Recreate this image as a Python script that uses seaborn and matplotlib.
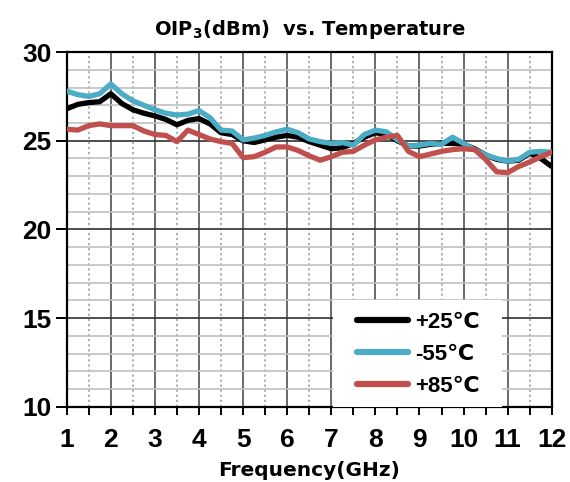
import numpy as np
import pandas as pd
import matplotlib
matplotlib.use("Agg")
import matplotlib.pyplot as plt
from matplotlib.patches import Rectangle
import seaborn as sns

# values, 0.25 GHz steps
freq = [1.0, 1.25, 1.5, 1.75, 2.0, 2.25, 2.5, 2.75, 3.0, 3.25, 3.5, 3.75,
        4.0, 4.25, 4.5, 4.75, 5.0, 5.25, 5.5, 5.75, 6.0, 6.25, 6.5, 6.75,
        7.0, 7.25, 7.5, 7.75, 8.0, 8.25, 8.5, 8.75, 9.0, 9.25, 9.5, 9.75,
        10.0, 10.25, 10.5, 10.75, 11.0, 11.25, 11.5, 11.75, 12.0]

oip3_p25 = [26.8, 27.05, 27.15, 27.2, 27.65, 27.1, 26.75, 26.55, 26.4, 26.2, 25.9, 26.15,
            26.25, 25.95, 25.45, 25.35, 25.0, 24.9, 25.05, 25.2, 25.3, 25.2, 24.95, 24.75,
            24.55, 24.6, 24.85, 25.2, 25.45, 25.35, 25.0, 24.7, 24.7, 24.8, 24.85, 24.85,
            24.8, 24.55, 24.2, 23.95, 23.85, 23.9, 24.3, 24.0, 23.55]

oip3_m55 = [27.8, 27.6, 27.5, 27.65, 28.2, 27.65, 27.25, 27.0, 26.75, 26.55, 26.45, 26.5,
            26.7, 26.3, 25.6, 25.55, 25.05, 25.15, 25.3, 25.5, 25.65, 25.45, 25.1, 24.95,
            24.85, 24.9, 24.75, 25.35, 25.6, 25.5, 25.05, 24.7, 24.75, 24.85, 24.8, 25.2,
            24.85, 24.5, 24.2, 24.0, 23.85, 23.95, 24.35, 24.4, 24.35]

oip3_p85 = [25.65, 25.6, 25.85, 25.95, 25.85, 25.85, 25.85, 25.55, 25.35, 25.3, 24.95, 25.6,
            25.35, 25.1, 24.95, 24.85, 24.05, 24.1, 24.35, 24.65, 24.65, 24.45, 24.15, 23.9,
            24.1, 24.35, 24.4, 24.75, 25.05, 25.2, 25.3, 24.4, 24.1, 24.25, 24.4, 24.5,
            24.55, 24.5, 23.95, 23.25, 23.2, 23.55, 23.8, 24.1, 24.35]

labels = ["+25℃", "-55℃", "+85℃"]
colors = ["#000000", "#4bacc6", "#c0504d"]

df = pd.concat([
    pd.DataFrame({"Frequency": freq, "OIP3": oip3_p25, "Temp": labels[0]}),
    pd.DataFrame({"Frequency": freq, "OIP3": oip3_m55, "Temp": labels[1]}),
    pd.DataFrame({"Frequency": freq, "OIP3": oip3_p85, "Temp": labels[2]}),
])

sns.set_style("white")
plt.rcParams["font.family"] = ["Liberation Sans", "DejaVu Sans"]
plt.rcParams["mathtext.fontset"] = "dejavusans"
plt.rcParams["text.color"] = "black"
plt.rcParams["axes.labelcolor"] = "black"
plt.rcParams["xtick.color"] = "black"
plt.rcParams["ytick.color"] = "black"

fig = plt.figure(figsize=(5.7, 4.82), dpi=100)
ax = fig.add_axes([0.117, 0.156, 0.851, 0.736])

sns.lineplot(data=df, x="Frequency", y="OIP3", hue="Temp", palette=colors,
             linewidth=3.8, ax=ax, legend=False, zorder=5,
             solid_joinstyle="round", solid_capstyle="round")

ax.set_xlim(1, 12)
ax.set_ylim(10, 30)
ax.set_xticks(np.arange(1, 13))
ax.set_xticks(np.arange(1.5, 12, 1.0), minor=True)
ax.set_yticks(np.arange(10, 31, 5))
ax.set_yticks(np.arange(10, 31, 1), minor=True)

ax.grid(which="major", axis="x", color="#505050", lw=1.2)
ax.grid(which="minor", axis="x", color="#a8a8a8", lw=1.3, ls=(0, (1.2, 1.6)))
ax.grid(which="minor", axis="y", color="#c0c0c0", lw=1.2)
ax.grid(which="major", axis="y", color="#303030", lw=1.2)
ax.set_axisbelow(True)

for s in ax.spines.values():
    s.set_color("black")
    s.set_linewidth(1.6)

ax.tick_params(axis="x", which="both", direction="out", length=6, width=1.4,
               color="black", bottom=True, pad=9)
ax.tick_params(axis="y", which="major", direction="out", length=8, width=1.4,
               color="black", left=True, pad=3)
ax.tick_params(axis="y", which="minor", length=0)
for lab in ax.get_xticklabels() + ax.get_yticklabels():
    lab.set_fontsize(19)
    lab.set_fontweight("bold")
    lab.set_color("black")

ax.set_xlabel("Frequency(GHz)", fontsize=14.5, fontweight="bold",
              family=["DejaVu Sans"], labelpad=7)
ax.set_ylabel("")
ax.set_title(r"OIP$_\mathbf{3}$(dBm)  vs. Temperature", fontsize=14,
             fontweight="bold", family=["DejaVu Sans"], pad=12)

# white legend panel
ax.add_patch(Rectangle((0.549, 0.0), 0.348, 0.301, transform=ax.transAxes,
                       facecolor="white", edgecolor="none", zorder=3))
handles = [plt.Line2D([], [], color=c, lw=4.5) for c in colors]
ax.legend(handles, labels, loc="center", bbox_to_anchor=(0.725, 0.148),
          frameon=False, handlelength=2.3, handletextpad=0.35,
          labelspacing=0.5, prop={"size": 16, "weight": "bold"})

fig.savefig("out.png", dpi=100)
